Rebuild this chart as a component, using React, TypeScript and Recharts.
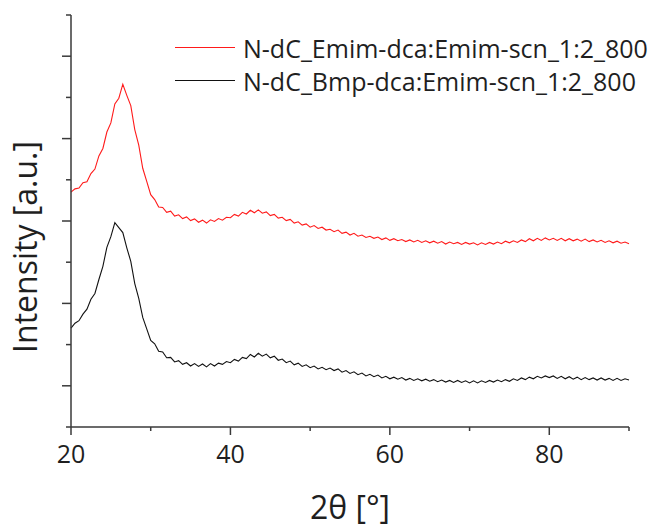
import { LineChart, Line, XAxis, YAxis, Legend } from 'recharts';

// 2θ scan grid, 0.5° steps from 20° to 90°
const twoTheta: number[] = Array.from({ length: 141 }, (_, i) => 20 + i * 0.5);

// N-dC_Emim-dca:Emim-scn_1:2_800 (offset trace, arbitrary units)
const emimSeries = [
  5.70, 5.78, 5.80, 5.93, 5.95, 6.15, 6.26, 6.58, 6.76, 7.16,
  7.38, 7.84, 7.98, 8.32, 8.05, 7.80, 7.22, 6.84, 6.28, 5.96,
  5.64, 5.52, 5.34, 5.33, 5.21, 5.24, 5.12, 5.15, 5.06, 5.10,
  5.01, 5.05, 4.97, 5.02, 4.95, 5.03, 4.99, 5.06, 5.02, 5.09,
  5.08, 5.16, 5.12, 5.21, 5.17, 5.26, 5.20, 5.27, 5.19, 5.22,
  5.13, 5.16, 5.07, 5.09, 5.01, 5.04, 4.95, 4.98, 4.90, 4.93,
  4.85, 4.89, 4.82, 4.85, 4.78, 4.80, 4.74, 4.78, 4.70, 4.73,
  4.66, 4.70, 4.63, 4.66, 4.60, 4.63, 4.58, 4.61, 4.55, 4.59,
  4.53, 4.57, 4.52, 4.55, 4.50, 4.54, 4.49, 4.53, 4.48, 4.52,
  4.47, 4.51, 4.46, 4.50, 4.44, 4.49, 4.45, 4.48, 4.43, 4.48,
  4.44, 4.47, 4.42, 4.47, 4.43, 4.48, 4.44, 4.49, 4.45, 4.51,
  4.47, 4.52, 4.48, 4.54, 4.50, 4.57, 4.52, 4.58, 4.53, 4.59,
  4.54, 4.58, 4.53, 4.58, 4.52, 4.57, 4.52, 4.56, 4.51, 4.56,
  4.50, 4.54, 4.49, 4.53, 4.48, 4.52, 4.47, 4.51, 4.46, 4.49,
  4.45,
];

// N-dC_Bmp-dca:Emim-scn_1:2_800
const bmpSeries = [
  2.40, 2.52, 2.58, 2.74, 2.86, 3.10, 3.24, 3.58, 3.90, 4.36,
  4.62, 4.96, 4.84, 4.72, 4.35, 4.02, 3.48, 3.12, 2.66, 2.38,
  2.10, 2.02, 1.84, 1.82, 1.68, 1.69, 1.58, 1.61, 1.52, 1.56,
  1.48, 1.54, 1.47, 1.53, 1.46, 1.54, 1.48, 1.55, 1.52, 1.59,
  1.56, 1.64, 1.60, 1.69, 1.66, 1.76, 1.70, 1.79, 1.72, 1.77,
  1.68, 1.72, 1.62, 1.65, 1.56, 1.60, 1.51, 1.55, 1.47, 1.51,
  1.44, 1.48, 1.41, 1.45, 1.39, 1.43, 1.37, 1.41, 1.33, 1.37,
  1.30, 1.34, 1.27, 1.31, 1.24, 1.28, 1.22, 1.26, 1.19, 1.23,
  1.17, 1.21, 1.16, 1.20, 1.14, 1.18, 1.13, 1.17, 1.12, 1.16,
  1.11, 1.15, 1.10, 1.14, 1.09, 1.13, 1.08, 1.13, 1.08, 1.12,
  1.07, 1.12, 1.07, 1.12, 1.08, 1.13, 1.09, 1.14, 1.10, 1.15,
  1.11, 1.17, 1.13, 1.19, 1.15, 1.21, 1.17, 1.23, 1.19, 1.24,
  1.20, 1.24, 1.18, 1.23, 1.17, 1.22, 1.16, 1.21, 1.15, 1.20,
  1.15, 1.19, 1.14, 1.19, 1.14, 1.18, 1.13, 1.18, 1.13, 1.17,
  1.14,
];

const xTicks = [20, 30, 40, 50, 60, 70, 80, 90];
const xLabelTicks = [20, 40, 60, 80];
const yTicks = [0, 1, 2, 3, 4, 5, 6, 7, 8, 9, 10];
const yMajorTicks = [1, 3, 5, 7, 9];

const seriesKeys = ['emim', 'bmp'];
const seriesNames: Record<string, string> = {
  emim: 'N-dC_Emim-dca:Emim-scn_1:2_800',
  bmp: 'N-dC_Bmp-dca:Emim-scn_1:2_800',
};

const data = twoTheta.map((t, i) => ({ t, emim: emimSeries[i], bmp: bmpSeries[i] }));

const FONT = '"Open Sans", "Noto Sans", sans-serif';
const AXIS = '#3a3a3a';
const TEXT = '#1f1f1f';

const XTick = (props: any) => {
  const { x, y, payload } = props;
  const major = xLabelTicks.includes(payload.value);
  return (
    <g>
      <line x1={x} x2={x} y1={y} y2={y + (major ? 8 : 4)} stroke={AXIS} strokeWidth={1.5} />
      {major && (
        <text x={x} y={y + 36} textAnchor="middle" fontSize={25} fill={TEXT} fontFamily={FONT}>
          {payload.value}
        </text>
      )}
    </g>
  );
};

const YTick = (props: any) => {
  const { x, y, payload } = props;
  const major = yMajorTicks.includes(payload.value);
  return <line x1={x} x2={x - (major ? 9 : 5)} y1={y} y2={y} stroke={AXIS} strokeWidth={1.5} />;
};

const LegendBox = (props: any) => {
  const items = [...(props.payload || [])].sort(
    (a: any, b: any) => seriesKeys.indexOf(a.dataKey) - seriesKeys.indexOf(b.dataKey)
  );
  return (
    <div style={{ fontFamily: FONT, fontSize: 25, color: TEXT }}>
      {items.map((p: any) => (
        <div key={p.value} style={{ display: 'flex', alignItems: 'center', height: 33 }}>
          <span style={{ display: 'inline-block', width: 60, height: 0, borderTop: `1px solid ${p.color}`, marginRight: 8 }} />
          <span style={{ whiteSpace: 'nowrap' }}>{p.value}</span>
        </div>
      ))}
    </div>
  );
};

export default function App() {
  return (
    <div style={{ position: 'absolute', left: 0, top: 0, width: 651, height: 528, background: '#fff' }}>
      <LineChart width={651} height={528} data={data} margin={{ top: 15, right: 22, left: 0, bottom: 0 }}>
        <XAxis
          dataKey="t"
          type="number"
          domain={[20, 90]}
          ticks={xTicks}
          interval={0}
          height={101}
          tickSize={0}
          tickMargin={0}
          tick={<XTick />}
          axisLine={{ stroke: AXIS, strokeWidth: 1.5 }}
          label={{
            value: '2θ [°]',
            position: 'insideBottom',
            offset: 9,
            fontSize: 32,
            fill: TEXT,
            fontFamily: FONT,
          }}
        />
        <YAxis
          type="number"
          domain={[0, 10]}
          ticks={yTicks}
          interval={0}
          width={71}
          tickSize={0}
          tickMargin={0}
          tick={<YTick />}
          axisLine={{ stroke: AXIS, strokeWidth: 1.5 }}
          label={{
            content: () => (
              <text
                x={37}
                y={247}
                transform="rotate(-90, 37, 247)"
                textAnchor="middle"
                fontSize={32}
                fill={TEXT}
                fontFamily={FONT}
              >
                Intensity [a.u.]
              </text>
            ),
          }}
        />
        <Legend
          layout="horizontal"
          verticalAlign="middle"
          align="center"
          content={<LegendBox />}
          wrapperStyle={{ position: 'absolute', left: 175, top: 31, width: 'auto' }}
        />
        <Line
          type="linear"
          dataKey="emim"
          name={seriesNames.emim}
          stroke="#ff1a1a"
          strokeWidth={1.1}
          dot={false}
          isAnimationActive={false}
        />
        <Line
          type="linear"
          dataKey="bmp"
          name={seriesNames.bmp}
          stroke="#111111"
          strokeWidth={1.1}
          dot={false}
          isAnimationActive={false}
        />
      </LineChart>
    </div>
  );
}
